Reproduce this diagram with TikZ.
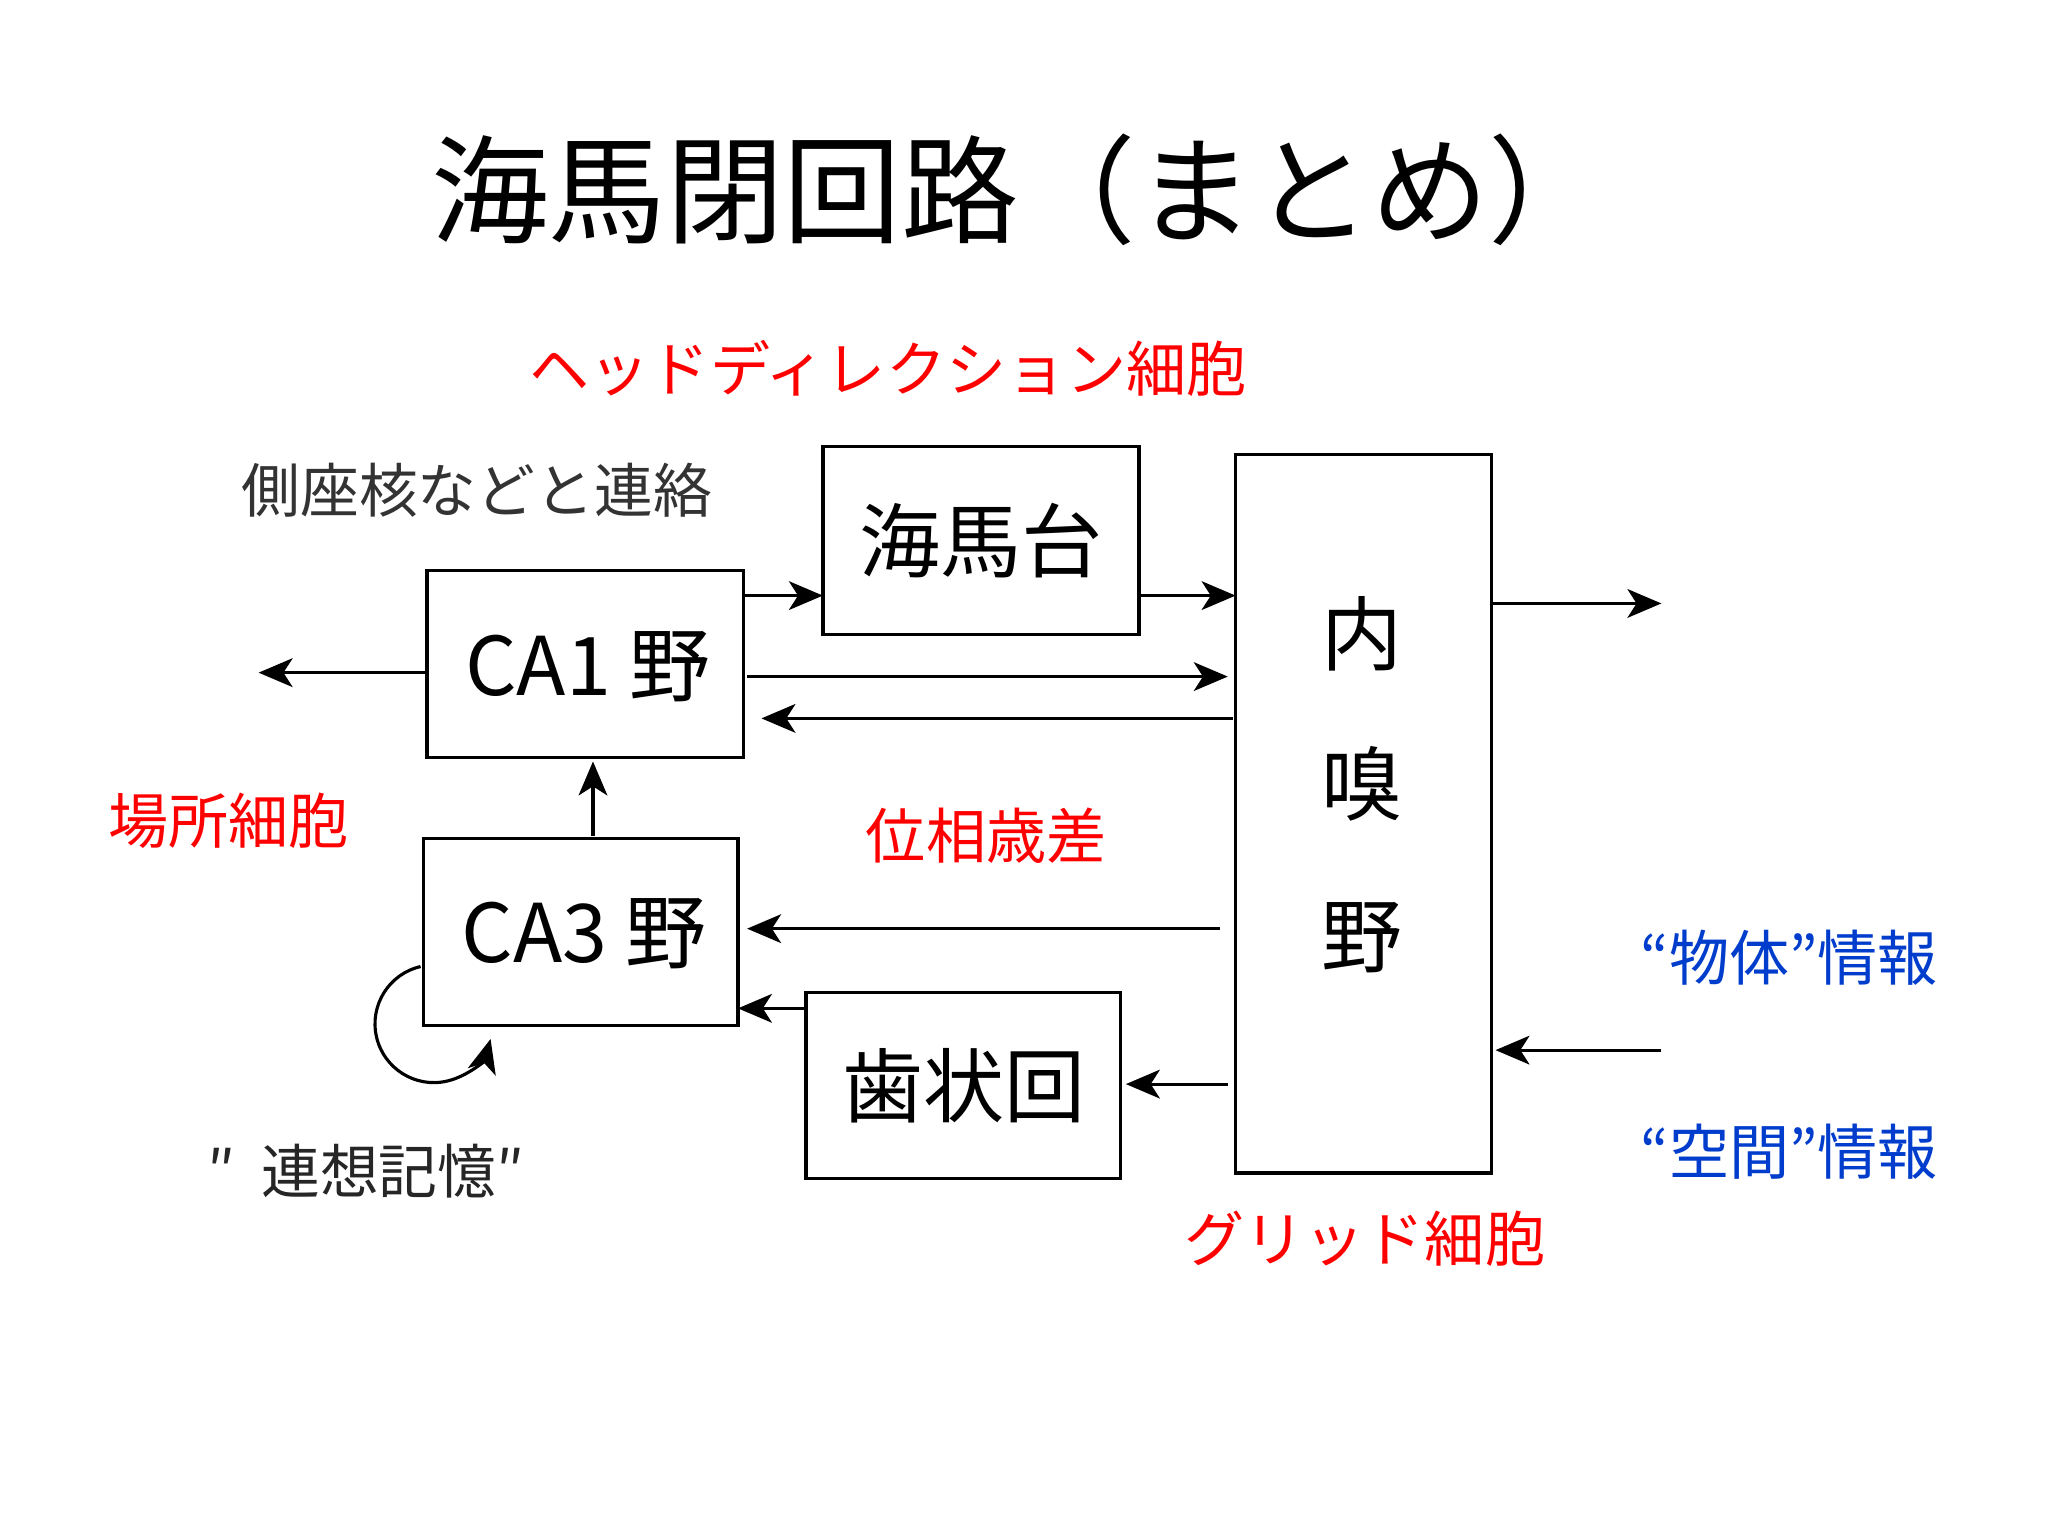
\documentclass[tikz,border=0pt]{standalone}
\usepackage{fontspec}
\setmainfont{Noto Sans CJK JP}
\usetikzlibrary{arrows.meta}
\begin{document}
\begin{tikzpicture}[x=1pt,y=-1pt,
 box/.style={draw,line width=2.5pt,inner sep=0pt},
 ar/.style={line width=2.4pt,-{Stealth[length=26pt,width=22pt,inset=7pt]}},
 red/.style={text=red,font=\fontsize{46}{50}\selectfont},
 blue/.style={text=blue!70!cyan!80!black,font=\fontsize{46}{50}\selectfont},
 lbl/.style={font=\fontsize{62}{66}\selectfont}]
\useasboundingbox (0,0) rectangle (1568,1176);
\fill[white] (0,0) rectangle (1568,1176);
\node[font=\fontsize{90}{96}\selectfont] (title) at (780,145) {海馬閉回路（まとめ）};
\node[red] (hd) at (680,282) {ヘッドディレクション細胞};
\node[text=black!80,font=\fontsize{45}{50}\selectfont] (sz) at (365,375) {側座核などと連絡};
\draw[box] (630,342) rectangle (872,486); \node[lbl] (sub) at (751,414) {海馬台};
\draw[box] (946,348) rectangle (1142,898);
\node[lbl] (ec1) at (1043,485) {内};
\node[lbl] (ec2) at (1043,600) {嗅};
\node[lbl] (ec3) at (1043,718) {野};
\draw[box] (327,437) rectangle (569,580); \node[lbl] (ca1) at (450,510) {CA1 野};
\draw[box] (324,642) rectangle (565,785); \node[lbl] (ca3) at (447,715) {CA3 野};
\draw[box] (617,760) rectangle (858,902); \node[lbl] (dg) at (738,831) {歯状回};
\coordinate (a1) at (569,456); \coordinate (a2) at (630,456);
\coordinate (b1) at (872,456); \coordinate (b2) at (946,456);
\coordinate (c1) at (572,518); \coordinate (c2) at (940,518);
\coordinate (d1) at (944,550); \coordinate (d2) at (583,550);
\coordinate (e1) at (327,515); \coordinate (e2) at (198,515);
\coordinate (f1) at (454,640); \coordinate (f2) at (454,583);
\coordinate (g1) at (934,711); \coordinate (g2) at (572,711);
\coordinate (h1) at (617,772); \coordinate (h2) at (565,772);
\coordinate (i1) at (940,830); \coordinate (i2) at (862,830);
\coordinate (j1) at (1142,462); \coordinate (j2) at (1272,462);
\coordinate (k1) at (1272,804); \coordinate (k2) at (1145,804);
\foreach \s/\t in {a1/a2,b1/b2,c1/c2,d1/d2,e1/e2,f1/f2,g1/g2,h1/h2,i1/i2,j1/j2,k1/k2}
  \draw[ar] (\s) -- (\t);
\coordinate (ls) at (322,740);
\draw[ar] (ls) arc[start angle=-103,end angle=-345,radius=45];
\node[red] (pc) at (175,628) {場所細胞};
\node[red] (pp) at (755,640) {位相歳差};
\node[red] (gc) at (1045,948) {グリッド細胞};
\node[blue] (obj) at (1370,733) {“物体”情報};
\node[blue] (spc) at (1370,882) {“空間”情報};
\node[text=black!85,font=\fontsize{45}{50}\selectfont] (am) at (280,897) {″\ \ 連想記憶″};
\end{tikzpicture}
\end{document}
